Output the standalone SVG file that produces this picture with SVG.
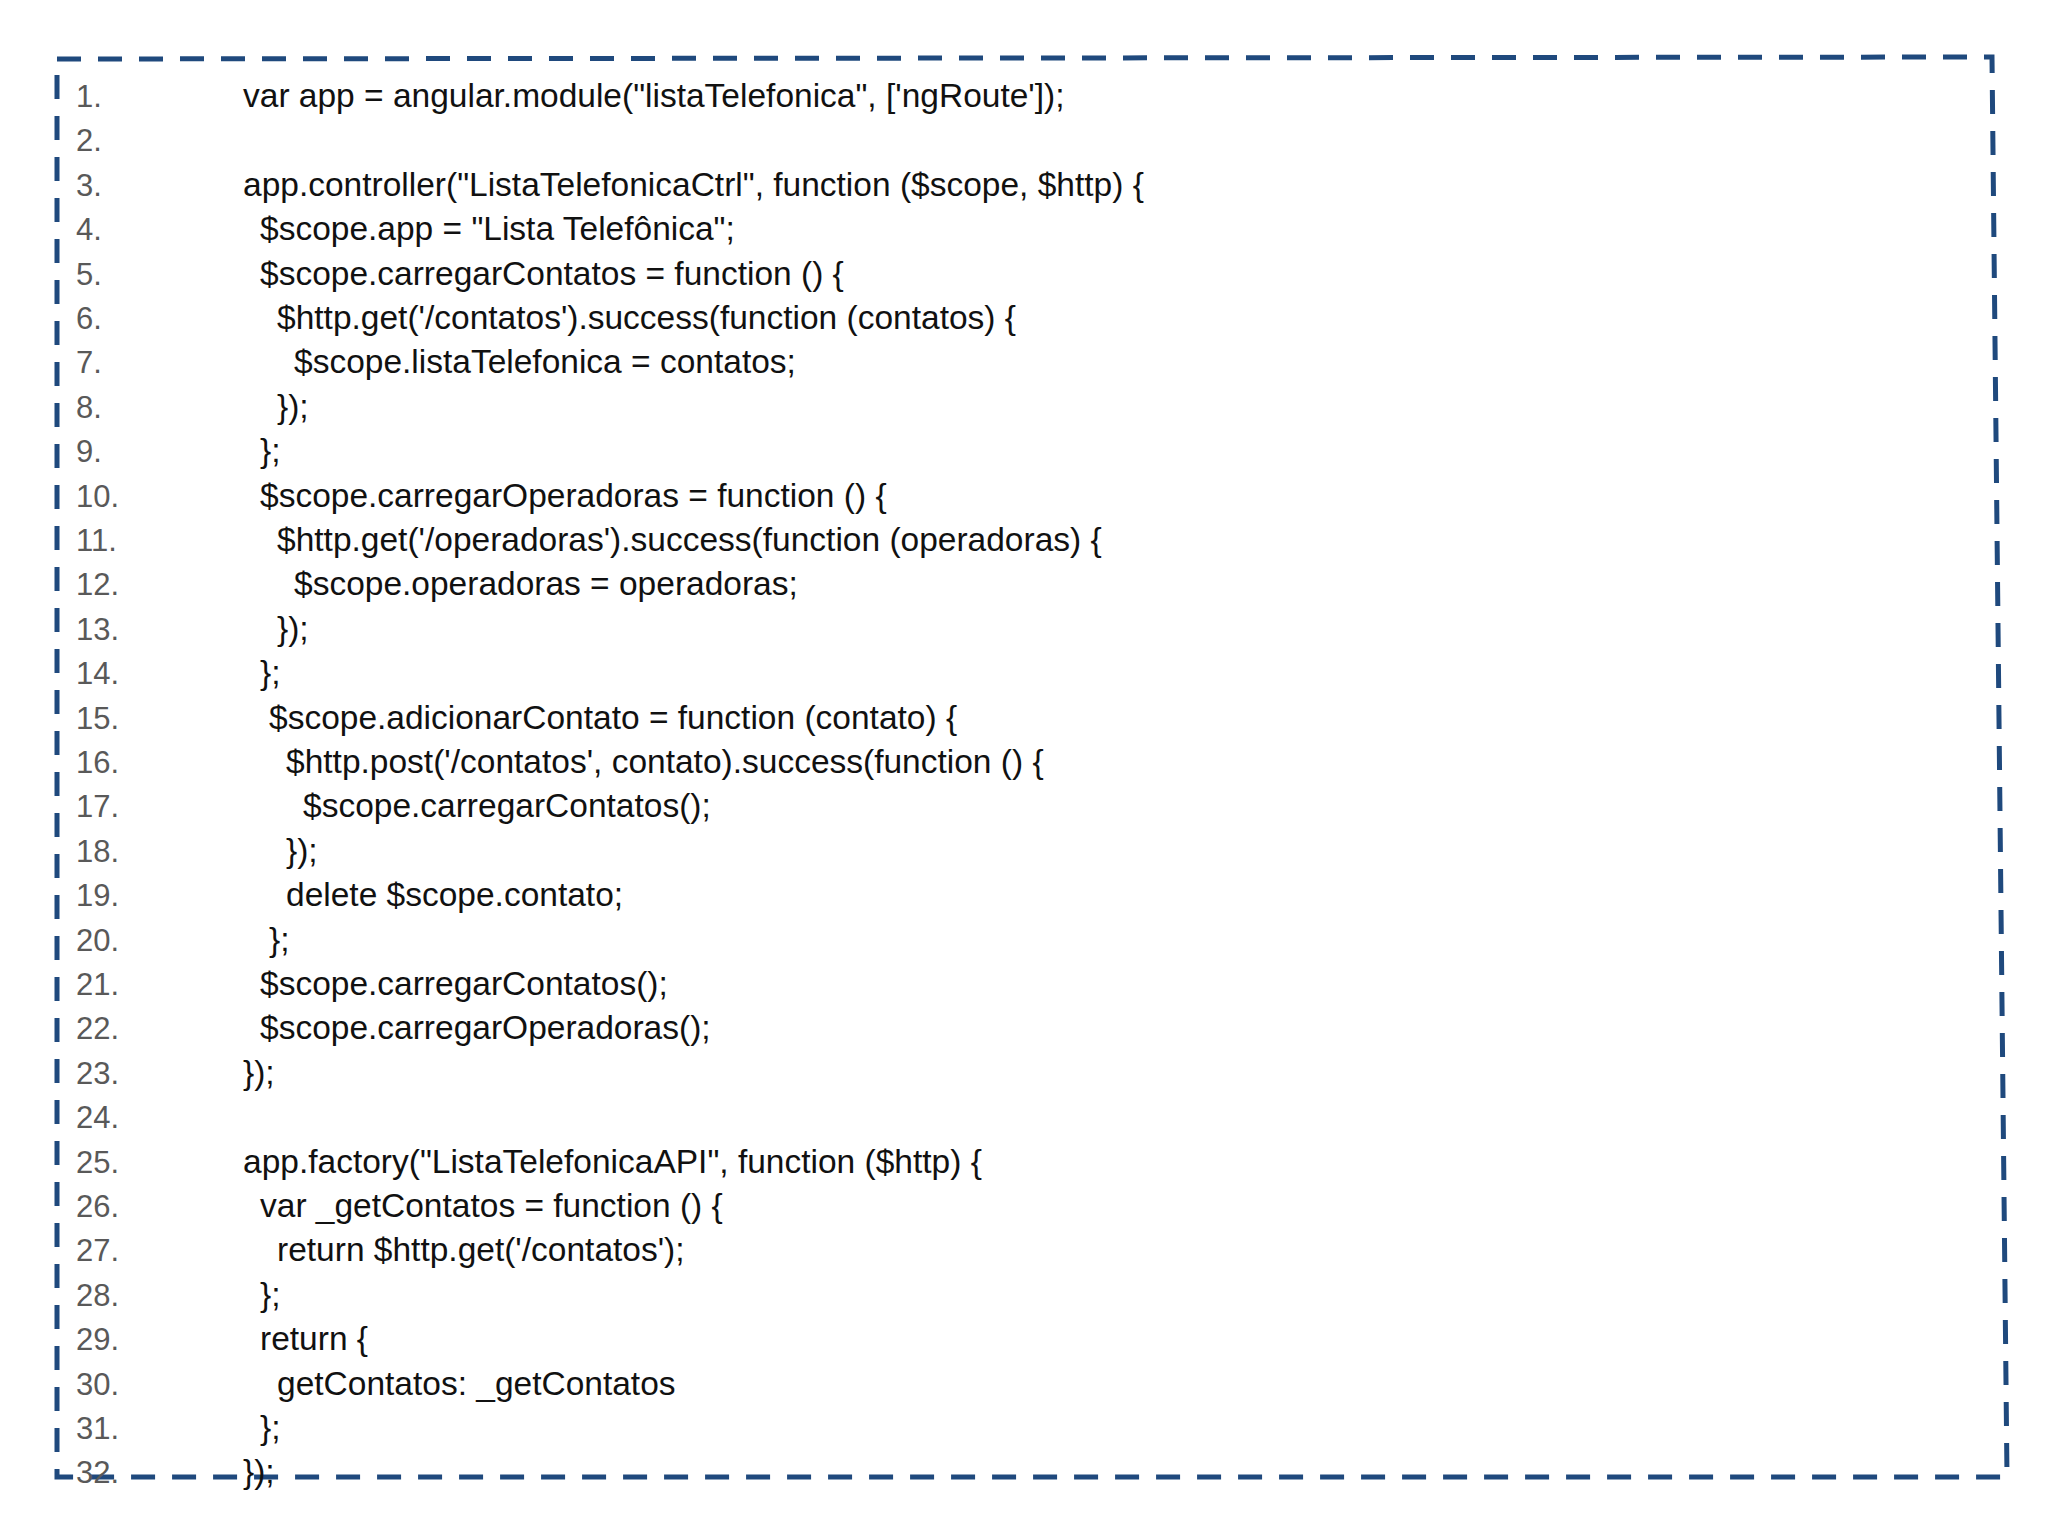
<svg xmlns="http://www.w3.org/2000/svg" width="2048" height="1536" viewBox="0 0 2048 1536">
<style>
text{font-family:"Liberation Sans","Open Sans",sans-serif;font-size:33.5px;fill:#111}
.n{fill:#595959;font-size:31px}
</style>
<rect width="2048" height="1536" fill="#fff"/>
<polyline id="frame" points="57,59 1992,57 2007,1477 57,1477 57,59" fill="none" stroke="#1f497d" stroke-width="5" stroke-dasharray="24,17"/>
<g id="numbers" transform="translate(0,-3)">
<text class="n" x="76" y="110">1.</text><text class="n" x="76" y="154">2.</text><text class="n" x="76" y="199">3.</text><text class="n" x="76" y="243">4.</text><text class="n" x="76" y="288">5.</text><text class="n" x="76" y="332">6.</text><text class="n" x="76" y="376">7.</text><text class="n" x="76" y="421">8.</text><text class="n" x="76" y="465">9.</text><text class="n" x="76" y="510">10.</text><text class="n" x="76" y="554">11.</text><text class="n" x="76" y="598">12.</text><text class="n" x="76" y="643">13.</text><text class="n" x="76" y="687">14.</text><text class="n" x="76" y="732">15.</text><text class="n" x="76" y="776">16.</text><text class="n" x="76" y="820">17.</text><text class="n" x="76" y="865">18.</text><text class="n" x="76" y="909">19.</text><text class="n" x="76" y="954">20.</text><text class="n" x="76" y="998">21.</text><text class="n" x="76" y="1042">22.</text><text class="n" x="76" y="1087">23.</text><text class="n" x="76" y="1131">24.</text><text class="n" x="76" y="1176">25.</text><text class="n" x="76" y="1220">26.</text><text class="n" x="76" y="1264">27.</text><text class="n" x="76" y="1309">28.</text><text class="n" x="76" y="1353">29.</text><text class="n" x="76" y="1398">30.</text><text class="n" x="76" y="1442">31.</text><text class="n" x="76" y="1486">32.</text>
</g>
<g id="code" transform="translate(0,-3)">
<text x="243" y="110">var app = angular.module("listaTelefonica", ['ngRoute']);</text>
<text x="243" y="199">app.controller("ListaTelefonicaCtrl", function ($scope, $http) {</text>
<text x="260" y="243">$scope.app = "Lista Telefônica";</text>
<text x="260" y="288">$scope.carregarContatos = function () {</text>
<text x="277" y="332">$http.get('/contatos').success(function (contatos) {</text>
<text x="294" y="376">$scope.listaTelefonica = contatos;</text>
<text x="277" y="421">});</text>
<text x="260" y="465">};</text>
<text x="260" y="510">$scope.carregarOperadoras = function () {</text>
<text x="277" y="554">$http.get('/operadoras').success(function (operadoras) {</text>
<text x="294" y="598">$scope.operadoras = operadoras;</text>
<text x="277" y="643">});</text>
<text x="260" y="687">};</text>
<text x="269" y="732">$scope.adicionarContato = function (contato) {</text>
<text x="286" y="776">$http.post('/contatos', contato).success(function () {</text>
<text x="303" y="820">$scope.carregarContatos();</text>
<text x="286" y="865">});</text>
<text x="286" y="909">delete $scope.contato;</text>
<text x="269" y="954">};</text>
<text x="260" y="998">$scope.carregarContatos();</text>
<text x="260" y="1042">$scope.carregarOperadoras();</text>
<text x="243" y="1087">});</text>
<text x="243" y="1176">app.factory("ListaTelefonicaAPI", function ($http) {</text>
<text x="260" y="1220">var _getContatos = function () {</text>
<text x="277" y="1264">return $http.get('/contatos');</text>
<text x="260" y="1309">};</text>
<text x="260" y="1353">return {</text>
<text x="277" y="1398">getContatos: _getContatos</text>
<text x="260" y="1442">};</text>
<text x="243" y="1486">});</text>
</g>
</svg>
